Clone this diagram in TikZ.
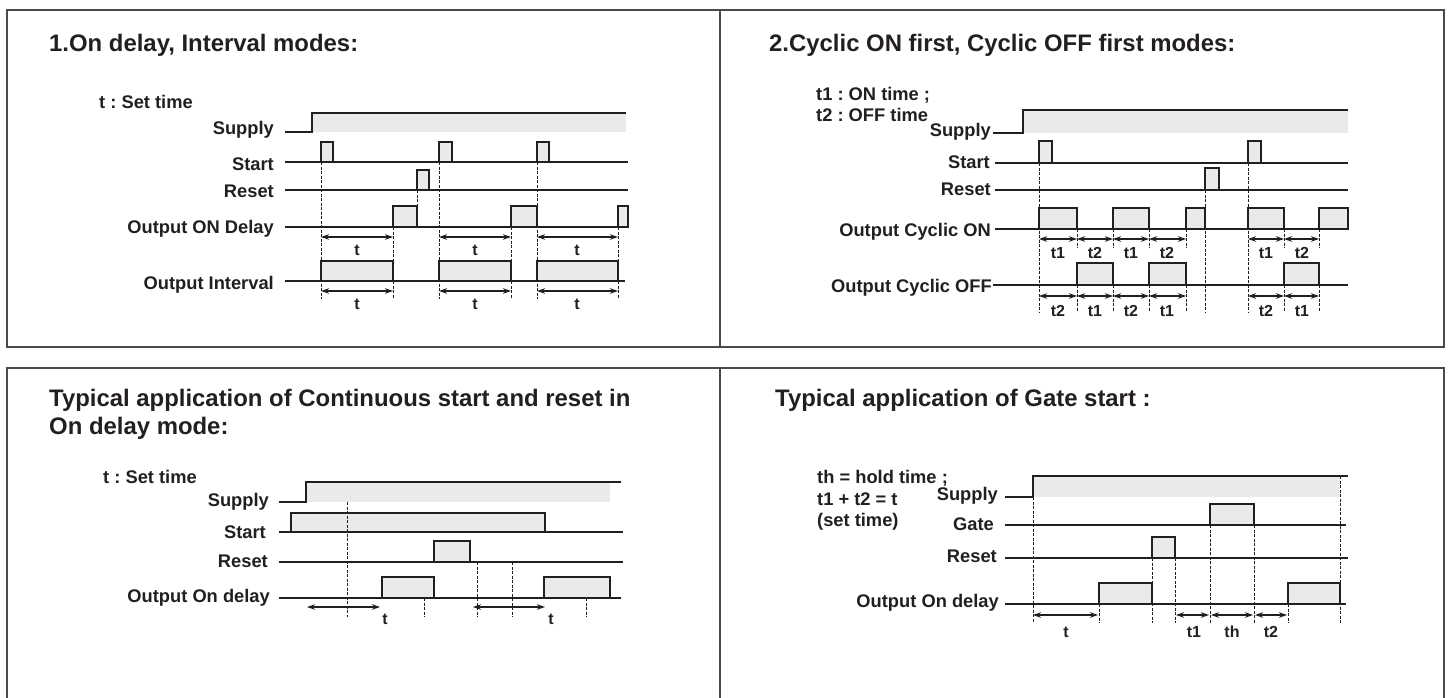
\documentclass[tikz,border=0pt]{standalone}
\usepackage{fontspec}
\setmainfont{Liberation Sans}
\usetikzlibrary{arrows.meta}
\frenchspacing

\definecolor{sigfill}{HTML}{E9EAEA}
\definecolor{frameline}{HTML}{4A4A4A}
\definecolor{ink}{HTML}{231F20}

\begin{document}
\begin{tikzpicture}[
    x=1pt, y=-1pt,
    frame/.style={draw=frameline, line width=1.6pt},
    signal/.style={draw=ink, line width=1.4pt},
    pulse/.style={draw=ink, fill=sigfill, line width=1.4pt},
    guide/.style={draw=ink, line width=0.8pt, dash pattern=on 3pt off 1.5pt},
    dim/.style={{Stealth[length=8pt, width=5.5pt]}-{Stealth[length=8pt, width=5.5pt]}, draw=ink, line width=1.2pt},
    heading/.style={font=\fontsize{23.9}{28}\selectfont\bfseries, anchor=base west, inner sep=0pt, text=ink},
    note/.style={font=\fontsize{18.3}{21}\selectfont\bfseries, anchor=base west, inner sep=0pt, text=ink},
    sig/.style={font=\fontsize{18.3}{21}\selectfont\bfseries, anchor=base east, inner sep=0pt, text=ink},
    tlabel/.style={font=\fontsize{16}{18}\selectfont\bfseries, inner sep=0pt, text=ink}
]
\useasboundingbox (0,0) rectangle (1451,698);

% === FRAMES ===
\draw[frame] (7,10) rectangle (1444,347);
\draw[frame] (720,10) -- (720,347);
\draw[frame] (7,699) -- (7,368) -- (1444,368) -- (1444,699);
\draw[frame] (720,368) -- (720,699);

% === PANEL 1: ON DELAY, INTERVAL ===
\node[heading] (title1) at (49,52) {1.On delay, Interval modes:};
\node[note] (set1) at (99,109) {t : Set time};

% Supply
\node[sig] (sup1) at (274,135) {Supply};
\fill[sigfill] (312,113) rectangle (626,132);
\draw[signal] (285,132) -- (312,132) -- (312,113) -- (626,113);

% Start
\node[sig] (st1) at (274,170) {Start};
\draw[signal] (285,162) -- (628,162);
\draw[pulse] (321,162) rectangle (333,142);
\draw[pulse] (439,162) rectangle (452,142);
\draw[pulse] (537,162) rectangle (549,142);

% Reset
\node[sig] (rs1) at (274,197) {Reset};
\draw[signal] (285,190) -- (628,190);
\draw[pulse] (417,190) rectangle (429,170);

% Output ON Delay
\node[sig] (on1) at (274,233) {Output ON Delay};
\draw[signal] (285,227) -- (628,227);
\draw[pulse] (393,227) rectangle (417,206);
\draw[pulse] (511,227) rectangle (537,206);
\draw[pulse] (618,227) rectangle (628,206);

% Output Interval
\node[sig] (iv1) at (274,289) {Output Interval};
\draw[signal] (285,281) -- (625,281);
\draw[pulse] (321,281) rectangle (393,261);
\draw[pulse] (439,281) rectangle (511,261);
\draw[pulse] (537,281) rectangle (618,261);

% Guides
\draw[guide] (321,162) -- (321,299);
\draw[guide] (439,162) -- (439,299);
\draw[guide] (537,162) -- (537,299);
\draw[guide] (393,227) -- (393,299);
\draw[guide] (511,227) -- (511,299);
\draw[guide] (618,227) -- (618,299);
\draw[guide] (417,190) -- (417,206);

% Time spans
\draw[dim] (321,237) -- (393,237);
\draw[dim] (439,237) -- (511,237);
\draw[dim] (537,237) -- (618,237);
\node[tlabel] (ta1) at (357,250) {t};
\node[tlabel] (tb1) at (475,250) {t};
\node[tlabel] (tc1) at (577,250) {t};
\draw[dim] (321,291) -- (393,291);
\draw[dim] (439,291) -- (511,291);
\draw[dim] (537,291) -- (618,291);
\node[tlabel] (td1) at (357,304) {t};
\node[tlabel] (te1) at (475,304) {t};
\node[tlabel] (tf1) at (577,304) {t};

% === PANEL 2: CYCLIC ===
\node[heading] (title2) at (769,52) {2.Cyclic ON first, Cyclic OFF first modes:};
\node[note] (ontime2) at (816,101) {t1 : ON time ;};
\node[note] (offtime2) at (816,122) {t2 : OFF time};

% Supply
\node[sig] (sup2) at (991,137) {Supply};
\fill[sigfill] (1023,110) rectangle (1348,133);
\draw[signal] (993,133) -- (1023,133) -- (1023,110) -- (1348,110);

% Start
\node[sig] (st2) at (990,168) {Start};
\draw[signal] (995,163) -- (1348,163);
\draw[pulse] (1039,163) rectangle (1052,141);
\draw[pulse] (1248,163) rectangle (1261,141);

% Reset
\node[sig] (rs2) at (991,195) {Reset};
\draw[signal] (995,190) -- (1348,190);
\draw[pulse] (1205,190) rectangle (1219,168);

% Output Cyclic ON
\node[sig] (on2) at (991,236) {Output Cyclic ON};
\draw[signal] (995,229) -- (1348,229);
\draw[pulse] (1039,229) rectangle (1077,208);
\draw[pulse] (1113,229) rectangle (1149,208);
\draw[pulse] (1186,229) rectangle (1205,208);
\draw[pulse] (1248,229) rectangle (1284,208);
\draw[pulse] (1319,229) rectangle (1348,208);

% Output Cyclic OFF
\node[sig] (off2) at (992,292) {Output Cyclic OFF};
\draw[signal] (993,285) -- (1348,285);
\draw[pulse] (1077,285) rectangle (1113,263);
\draw[pulse] (1149,285) rectangle (1186,263);
\draw[pulse] (1284,285) rectangle (1319,263);

% Guides
\draw[guide] (1039,163) -- (1039,312);
\draw[guide] (1248,163) -- (1248,312);
\draw[guide] (1205,190) -- (1205,312);
\draw[guide] (1077,229) -- (1077,248);
\draw[guide] (1113,229) -- (1113,248);
\draw[guide] (1149,229) -- (1149,248);
\draw[guide] (1186,229) -- (1186,248);
\draw[guide] (1284,229) -- (1284,248);
\draw[guide] (1319,229) -- (1319,248);
\draw[guide] (1077,285) -- (1077,312);
\draw[guide] (1113,285) -- (1113,312);
\draw[guide] (1149,285) -- (1149,312);
\draw[guide] (1186,285) -- (1186,312);
\draw[guide] (1284,285) -- (1284,312);
\draw[guide] (1319,285) -- (1319,312);

% Time spans (ON first)
\draw[dim] (1039,239) -- (1077,239);
\draw[dim] (1077,239) -- (1113,239);
\draw[dim] (1113,239) -- (1149,239);
\draw[dim] (1149,239) -- (1186,239);
\draw[dim] (1248,239) -- (1284,239);
\draw[dim] (1284,239) -- (1319,239);
\node[tlabel] (ua2) at (1058,253) {t1};
\node[tlabel] (ub2) at (1095,253) {t2};
\node[tlabel] (uc2) at (1131,253) {t1};
\node[tlabel] (ud2) at (1167,253) {t2};
\node[tlabel] (ue2) at (1266,253) {t1};
\node[tlabel] (uf2) at (1302,253) {t2};

% Time spans (OFF first)
\draw[dim] (1039,296) -- (1077,296);
\draw[dim] (1077,296) -- (1113,296);
\draw[dim] (1113,296) -- (1149,296);
\draw[dim] (1149,296) -- (1186,296);
\draw[dim] (1248,296) -- (1284,296);
\draw[dim] (1284,296) -- (1319,296);
\node[tlabel] (va2) at (1058,311) {t2};
\node[tlabel] (vb2) at (1095,311) {t1};
\node[tlabel] (vc2) at (1131,311) {t2};
\node[tlabel] (vd2) at (1167,311) {t1};
\node[tlabel] (ve2) at (1266,311) {t2};
\node[tlabel] (vf2) at (1302,311) {t1};

% === PANEL 3: CONTINUOUS START AND RESET ===
\node[heading] (title3a) at (49,406) {Typical application of Continuous start and reset in};
\node[heading] (title3b) at (49,434) {On delay mode:};
\node[note] (set3) at (103,483) {t : Set time};

% Supply
\node[sig] (sup3) at (269,506) {Supply};
\fill[sigfill] (306,482) rectangle (610,502);
\draw[signal] (279,502) -- (306,502) -- (306,482) -- (621,482);

% Start
\node[sig] (st3) at (266,538) {Start};
\draw[signal] (279,532) -- (623,532);
\draw[pulse] (291,532) rectangle (545,513);

% Reset
\node[sig] (rs3) at (268,567) {Reset};
\draw[signal] (279,562) -- (623,562);
\draw[pulse] (434,562) rectangle (470,541);

% Output On delay
\node[sig] (on3) at (270,602) {Output On delay};
\draw[signal] (279,598) -- (621,598);
\draw[pulse] (382,598) rectangle (434,577);
\draw[pulse] (544,598) rectangle (610,577);

% Guides
\draw[guide] (347,502) -- (347,617);
\draw[guide] (424,598) -- (424,617);
\draw[guide] (477,562) -- (477,617);
\draw[guide] (512,562) -- (512,617);
\draw[guide] (586,598) -- (586,617);

% Time spans
\draw[dim] (307,607) -- (380,607);
\draw[dim] (473,607) -- (545,607);
\node[tlabel] (ta3) at (385,619) {t};
\node[tlabel] (tb3) at (551,619) {t};

% === PANEL 4: GATE START ===
\node[heading] (title4) at (775,406) {Typical application of Gate start :};
\node[note] (hold4) at (817,483) {th = hold time ;};
\node[note] (sum4) at (817,505) {t1 + t2 = t};
\node[note] (set4) at (817,526) {(set time)};

% Supply
\node[sig] (sup4) at (998,500) {Supply};
\fill[sigfill] (1033,476) rectangle (1340,497);
\draw[signal] (1005,497) -- (1033,497) -- (1033,476) -- (1348,476);

% Gate
\node[sig] (gt4) at (994,530) {Gate};
\draw[signal] (1005,525) -- (1346,525);
\draw[pulse] (1210,525) rectangle (1254,504);

% Reset
\node[sig] (rs4) at (997,562) {Reset};
\draw[signal] (1005,558) -- (1348,558);
\draw[pulse] (1152,558) rectangle (1175,537);

% Output On delay
\node[sig] (on4) at (999,607) {Output On delay};
\draw[signal] (1005,604) -- (1346,604);
\draw[pulse] (1099,604) rectangle (1152,583);
\draw[pulse] (1288,604) rectangle (1340,583);

% Guides
\draw[guide] (1033,497) -- (1033,623);
\draw[guide] (1099,604) -- (1099,623);
\draw[guide] (1152,558) -- (1152,623);
\draw[guide] (1175,558) -- (1175,623);
\draw[guide] (1210,525) -- (1210,623);
\draw[guide] (1254,525) -- (1254,623);
\draw[guide] (1288,604) -- (1288,623);
\draw[guide] (1340,476) -- (1340,623);

% Time spans
\draw[dim] (1033,615) -- (1098,615);
\draw[dim] (1176,615) -- (1209,615);
\draw[dim] (1211,615) -- (1253,615);
\draw[dim] (1255,615) -- (1287,615);
\node[tlabel] (ta4) at (1066,632) {t};
\node[tlabel] (tb4) at (1194,632) {t1};
\node[tlabel] (tc4) at (1232,632) {th};
\node[tlabel] (td4) at (1271,632) {t2};

\end{tikzpicture}
\end{document}
